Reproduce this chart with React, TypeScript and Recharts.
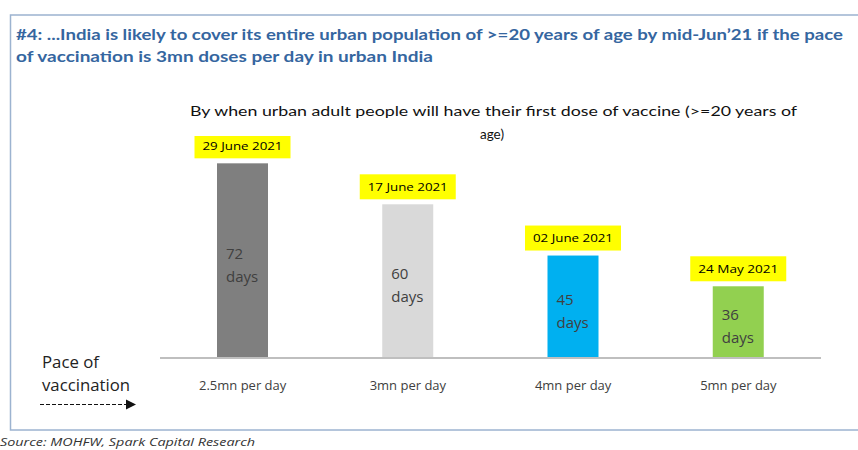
import React from 'react';
import { BarChart, Bar, XAxis, YAxis, Cell } from 'recharts';

const categories = ['2.5mn per day', '3mn per day', '4mn per day', '5mn per day'];
const daysValues = [72, 60, 45, 36];
const dateLabels = ['29 June 2021', '17 June 2021', '02 June 2021', '24 May 2021'];
const barColors = ['#7F7F7F', '#D9D9D9', '#00B0F0', '#92D050'];

const titleLines = [
  '#4: ...India is likely to cover its entire urban population of >=20 years of age by mid-Jun\u201921 if the pace',
  'of vaccination is 3mn doses per day in urban India',
];
const subtitleLines = [
  'By when urban adult people will have their first dose of vaccine (>=20 years of',
  'age)',
];
const paceLines = ['Pace of', 'vaccination'];
const sourceText = 'Source: MOHFW, Spark Capital Research';

const data = categories.map((c, i) => ({
  category: c,
  days: daysValues[i],
  date: dateLabels[i],
}));

const FONT = "Lato, 'Open Sans', 'DejaVu Sans', sans-serif";
const FONT2 = "'Open Sans', Lato, 'DejaVu Sans', sans-serif";

const BarShape = (props: any) => {
  const { x, y, width, height, fill, payload } = props;
  const cx = x + width / 2;
  const boxW = 96;
  const boxH = 25;
  const mid = y + height / 2 + 4;
  return (
    <g>
      <rect x={x} y={y} width={width} height={height} fill={fill} />
      <rect x={cx - boxW / 2} y={y - 5 - boxH} width={boxW} height={boxH} fill="#FFFF00" />
      <text
        x={cx}
        y={y - 5 - boxH / 2 + 4}
        textAnchor="middle"
        fontFamily={FONT2}
        fontSize={11.5}
        fill="#000"
        textLength={80}
        lengthAdjust="spacingAndGlyphs"
      >
        {payload.date}
      </text>
      <text x={x + 9} y={mid - 6} fontFamily={FONT2} fontSize={15} fill="#404040">
        {payload.days}
      </text>
      <text x={x + 9} y={mid + 17} fontFamily={FONT2} fontSize={15} fill="#404040">
        days
      </text>
    </g>
  );
};

const Tick = (props: any) => {
  const { x, y, payload } = props;
  return (
    <text x={x} y={y + 24} textAnchor="middle" fontFamily={FONT2} fontSize={13} fill="#404040">
      {payload.value}
    </text>
  );
};

export default function App() {
  return (
    <div style={{ position: 'absolute', left: 0, top: 0, width: 858, height: 450, background: '#fff' }}>
      <svg width={858} height={450} style={{ position: 'absolute', left: 0, top: 0 }}>
        <rect x={10.5} y={15} width={860} height={415} fill="none" stroke="#9CB3D0" strokeWidth={1.5} />
        <text x={16} y={40} fontFamily={FONT} fontWeight="bold" fontSize={15} fill="#3566A0"
          textLength={827} lengthAdjust="spacingAndGlyphs">
          {titleLines[0]}
        </text>
        <text x={16} y={62} fontFamily={FONT} fontWeight="bold" fontSize={15} fill="#3566A0"
          textLength={417} lengthAdjust="spacingAndGlyphs">
          {titleLines[1]}
        </text>
        <text x={190} y={116} fontFamily={FONT} fontSize={13.5} fill="#111"
          textLength={607} lengthAdjust="spacingAndGlyphs">
          {subtitleLines[0]}
        </text>
        <text x={492} y={139} textAnchor="middle" fontFamily={FONT} fontSize={13.5} fill="#111">
          {subtitleLines[1]}
        </text>
        <text x={42} y={368} fontFamily={FONT2} fontSize={16} fill="#222"
          textLength={57} lengthAdjust="spacingAndGlyphs">{paceLines[0]}</text>
        <text x={42} y={391} fontFamily={FONT2} fontSize={16} fill="#222"
          textLength={88} lengthAdjust="spacingAndGlyphs">{paceLines[1]}</text>
        <line x1={40} y1={404.5} x2={126} y2={404.5} stroke="#111" strokeWidth={1.2} strokeDasharray="4 2" />
        <polygon points="126,399.5 136,404.5 126,409.5" fill="#111" />
        <text x={0} y={446} fontFamily={FONT2} fontStyle="italic" fontSize={11} fill="#333"
          textLength={255} lengthAdjust="spacingAndGlyphs">
          {sourceText}
        </text>
      </svg>
      <div style={{ position: 'absolute', left: 0, top: 0 }}>
        <BarChart
          width={858}
          height={450}
          data={data}
          margin={{ top: 136, right: 37, bottom: 62, left: 160 }}
        >
          <XAxis
            dataKey="category"
            axisLine={{ stroke: '#BFBFBF', strokeWidth: 2 }}
            tickLine={false}
            tick={<Tick />}
            interval={0}
          />
          <YAxis hide type="number" domain={[15, 80]} allowDataOverflow />
          <Bar dataKey="days" barSize={51} isAnimationActive={false} shape={<BarShape />}>
            {data.map((d, i) => (
              <Cell key={d.category} fill={barColors[i]} />
            ))}
          </Bar>
        </BarChart>
      </div>
    </div>
  );
}
